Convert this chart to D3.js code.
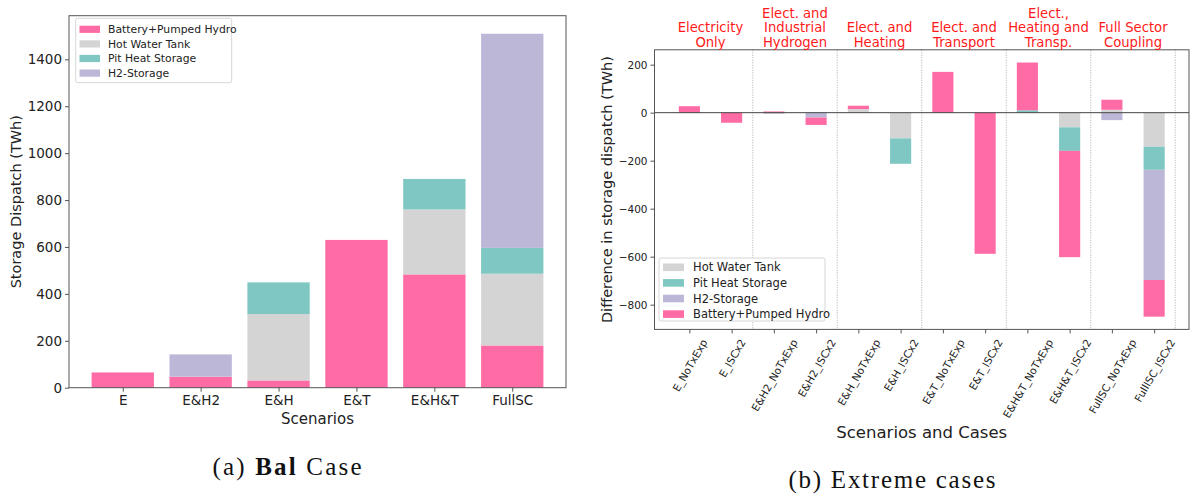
<!DOCTYPE html>
<html><head><meta charset="utf-8">
<script src="https://cdn.jsdelivr.net/npm/d3@7"></script>
<style>
body{margin:0;background:#fff;}
text{font-family:"DejaVu Sans",sans-serif;}
text.cap{font-family:"Liberation Serif","DejaVu Serif",serif;}
</style></head>
<body><svg id="c" width="1194" height="494"></svg>
<script>
// ---------- Data: (a) Bal case ----------
const scenariosA = ["E","E&H2","E&H","E&T","E&H&T","FullSC"];
const batteryA  = [65, 47, 31, 630, 483, 180];
const hotWaterA = [0, 0, 283, 0, 277, 306];
const pitA      = [0, 0, 135, 0, 130, 110];
const h2A       = [0, 95, 0, 0, 0, 913];
const yTicksA   = [0,200,400,600,800,1000,1200,1400];

// ---------- Data: (b) Extreme cases ----------
const casesB = ["E_NoTxExp","E_ISCx2","E&H2_NoTxExp","E&H2_ISCx2","E&H_NoTxExp","E&H_ISCx2",
                "E&T_NoTxExp","E&T_ISCx2","E&H&T_NoTxExp","E&H&T_ISCx2","FullSC_NoTxExp","FullISC_ISCx2"];
const hotWaterB = [0, 0, 0, 0, 15, -107, 0, 0, 0, -61, 12, -142];
const pitB      = [0, 0, 0, 0, 0, -106, 0, 0, 10, -98, 0, -96];
const h2B       = [0, 0, -4, -20, 0, 0, 0, 0, 0, 0, -31, -459];
const batteryB  = [27, -42, 5, -31, 14, 0, 170, -588, 199, -443, 42, -153];
const groupLabelsB = [["Electricity","Only"],["Elect. and","Industrial","Hydrogen"],["Elect. and","Heating"],
                      ["Elect. and","Transport"],["Elect.,","Heating and","Transp."],["Full Sector","Coupling"]];
const yTicksB = [-800,-600,-400,-200,0,200];

const colors = {battery:"#ff6ba5", hot:"#d4d4d4", pit:"#7fc7c3", h2:"#bdb7d7"};
const names  = {battery:"Battery+Pumped Hydro", hot:"Hot Water Tank", pit:"Pit Heat Storage", h2:"H2-Storage"};
const svg = d3.select("#c");
const axisColor = "#555";

// ================= Chart A =================
(function(){
  const L=69, R=566, T=15.7, B=387.7;
  const x = d3.scaleLinear().domain([-0.69,5.69]).range([L,R]);
  const y = d3.scaleLinear().domain([0,1586]).range([B,T]);
  const rows = scenariosA.map((s,i)=>({battery:batteryA[i],hot:hotWaterA[i],pit:pitA[i],h2:h2A[i]}));
  const keys = ["battery","hot","pit","h2"];
  const stack = d3.stack().keys(keys)(rows);
  const g = svg.append("g");
  stack.forEach(layer=>{
    g.selectAll(null).data(layer).join("rect")
      .attr("x",(d,i)=>x(i-0.4)).attr("width",x(0.8)-x(0))
      .attr("y",d=>y(d[1])).attr("height",d=>Math.max(0,y(d[0])-y(d[1])))
      .attr("fill",colors[layer.key]);
  });
  g.append("rect").attr("x",L).attr("y",T).attr("width",R-L).attr("height",B-T)
    .attr("fill","none").attr("stroke",axisColor).attr("stroke-width",1);
  const ya = g.append("g").attr("transform",`translate(${L},0)`)
    .call(d3.axisLeft(y).tickValues(yTicksA).tickFormat(d3.format("d")).tickSize(4).tickPadding(3));
  ya.select(".domain").remove();
  ya.selectAll("line").attr("stroke",axisColor);
  ya.selectAll("text").attr("font-size",13.5).attr("fill","#222");
  const xa = g.append("g").attr("transform",`translate(0,${B})`)
    .call(d3.axisBottom(x).tickValues(d3.range(scenariosA.length)).tickFormat(i=>scenariosA[i]).tickSize(4).tickPadding(4));
  xa.select(".domain").remove();
  xa.selectAll("line").attr("stroke",axisColor);
  xa.selectAll("text").attr("font-size",13.5).attr("fill","#222");
  g.append("text").attr("x",(L+R)/2).attr("y",424).attr("text-anchor","middle")
    .attr("font-size",15).attr("fill","#222").text("Scenarios");
  g.append("text").attr("transform",`translate(21,${(T+B)/2}) rotate(-90)`).attr("text-anchor","middle")
    .attr("font-size",14.5).attr("fill","#222").text("Storage Dispatch (TWh)");
  const lg = g.append("g");
  lg.append("rect").attr("x",75.7).attr("y",18.3).attr("width",156).attr("height",64.4).attr("rx",2)
    .attr("fill","#fff").attr("stroke","#ccc").attr("stroke-width",0.8);
  keys.forEach((k,i)=>{
    const yy = 29.3 + i*14.6;
    lg.append("rect").attr("x",79.5).attr("y",yy-3.6).attr("width",20.5).attr("height",7.2).attr("fill",colors[k]);
    lg.append("text").attr("x",108).attr("y",yy).attr("dy","0.35em").attr("font-size",10.8).attr("fill","#222").text(names[k]);
  });
  svg.append("text").attr("class","cap").attr("x",287).attr("y",475).attr("text-anchor","middle")
    .attr("font-size",25).attr("fill","#111")
    .attr("textLength",149).attr("lengthAdjust","spacing")
    .html('(a) <tspan font-weight="bold">Bal</tspan> Case');
})();

// ================= Chart B =================
(function(){
  const L=654.5, R=1189, T=49.8, B=329.4;
  const x = d3.scaleLinear().domain([-0.825,11.825]).range([L,R]);
  const y = d3.scaleLinear().domain([-903,262]).range([B,T]);
  const rows = casesB.map((s,i)=>({hot:hotWaterB[i],pit:pitB[i],h2:h2B[i],battery:batteryB[i]}));
  const keys = ["hot","pit","h2","battery"];
  const stack = d3.stack().keys(keys).offset(d3.stackOffsetDiverging)(rows);
  const g = svg.append("g");
  stack.forEach(layer=>{
    g.selectAll(null).data(layer).join("rect")
      .attr("x",(d,i)=>x(i-0.25)).attr("width",x(0.5)-x(0))
      .attr("y",d=>y(Math.max(d[0],d[1]))).attr("height",d=>Math.abs(y(d[0])-y(d[1])))
      .attr("fill",colors[layer.key]);
  });
  d3.range(groupLabelsB.length).forEach(k=>{
    g.append("line").attr("x1",x(2*k+1.5)).attr("x2",x(2*k+1.5)).attr("y1",T).attr("y2",B)
      .attr("stroke","#999").attr("stroke-width",0.8).attr("stroke-dasharray","1,1.5");
  });
  g.append("line").attr("x1",L).attr("x2",R).attr("y1",y(0)).attr("y2",y(0))
    .attr("stroke","#444").attr("stroke-width",1);
  g.append("rect").attr("x",L).attr("y",T).attr("width",R-L).attr("height",B-T)
    .attr("fill","none").attr("stroke",axisColor).attr("stroke-width",1);
  const ya = g.append("g").attr("transform",`translate(${L},0)`)
    .call(d3.axisLeft(y).tickValues(yTicksB).tickSize(4).tickPadding(3).tickFormat(d=>d<0?"\u2212"+(-d):d));
  ya.select(".domain").remove();
  ya.selectAll("line").attr("stroke",axisColor);
  ya.selectAll("text").attr("font-size",10.5).attr("fill","#222");
  const xa = g.append("g").attr("transform",`translate(0,${B})`)
    .call(d3.axisBottom(x).tickValues(d3.range(casesB.length)).tickFormat(i=>casesB[i]).tickSize(4).tickPadding(4));
  xa.select(".domain").remove();
  xa.selectAll("line").attr("stroke",axisColor);
  xa.selectAll("text").attr("font-size",10.5).attr("fill","#222")
    .each(function(){
      const t = d3.select(this);
      const len = this.getComputedTextLength();
      const h = 10.5;
      const s = Math.sin(Math.PI/3), c = Math.cos(Math.PI/3);
      const cy = 8 + (len*s + h*c)/2;
      t.attr("y",null).attr("dy",null).attr("text-anchor","middle").attr("dominant-baseline","central")
       .attr("transform",`translate(0,${cy}) rotate(-60)`);
    });
  groupLabelsB.forEach((lines,k)=>{
    const t = g.append("text").attr("text-anchor","middle").attr("fill","#ff1a1a").attr("font-size",13.2);
    lines.forEach((ln,j)=>{
      t.append("tspan").attr("x",x(2*k+0.5)).attr("y",46.5-(lines.length-1-j)*14.3).text(ln);
    });
  });
  g.append("text").attr("x",(L+R)/2).attr("y",438).attr("text-anchor","middle")
    .attr("font-size",16.5).attr("fill","#222").text("Scenarios and Cases");
  g.append("text").attr("transform",`translate(612,${(T+B)/2}) rotate(-90)`).attr("text-anchor","middle")
    .attr("font-size",14.5).attr("fill","#222").text("Difference in storage dispatch (TWh)");
  const lg = g.append("g");
  lg.append("rect").attr("x",659).attr("y",258).attr("width",166).attr("height",63).attr("rx",2)
    .attr("fill","#fff").attr("stroke","#ccc").attr("stroke-width",0.8);
  keys.forEach((k,i)=>{
    const yy = 267.3 + i*15.6;
    lg.append("rect").attr("x",663).attr("y",yy-3.8).attr("width",21).attr("height",7.6).attr("fill",colors[k]);
    lg.append("text").attr("x",693).attr("y",yy).attr("dy","0.35em").attr("font-size",11.5).attr("fill","#222").text(names[k]);
  });
  svg.append("text").attr("class","cap").attr("x",892).attr("y",488).attr("text-anchor","middle")
    .attr("font-size",25).attr("fill","#111")
    .attr("textLength",207).attr("lengthAdjust","spacing")
    .text("(b) Extreme cases");
})();
</script></body></html>
